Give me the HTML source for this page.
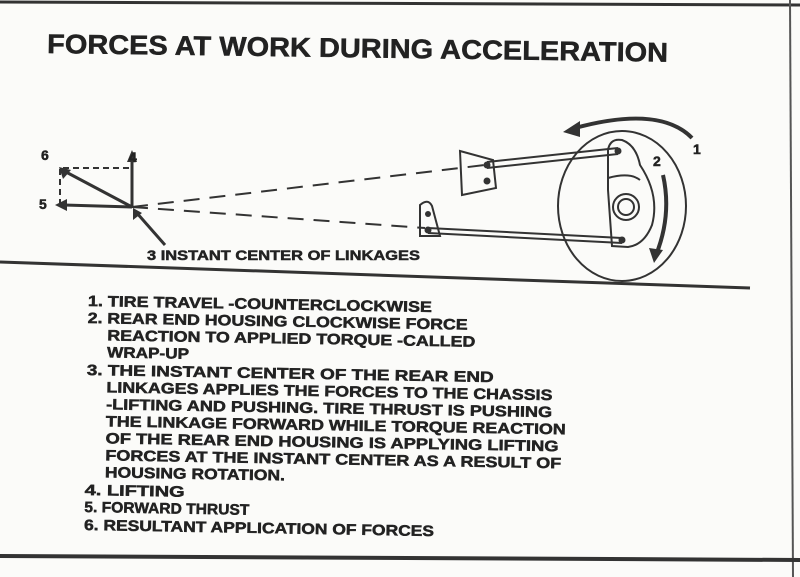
<!DOCTYPE html>
<html><head><meta charset="utf-8"><style>
html,body{margin:0;padding:0;background:#fff}
svg{display:block}
text{font-family:"Liberation Sans",sans-serif;font-weight:bold;fill:#222;stroke:#222;stroke-width:0.5}
</style></head><body>
<svg width="800" height="577" viewBox="0 0 800 577" xmlns="http://www.w3.org/2000/svg">
<rect width="800" height="577" fill="#fbfbf9"/>
<line x1="0" y1="2" x2="800" y2="5" stroke="#333" stroke-width="3"/>
<line x1="790" y1="0" x2="793" y2="577" stroke="#555" stroke-width="2"/>
<line x1="0" y1="556" x2="800" y2="560" stroke="#333" stroke-width="4"/>
<text x="47" y="53" font-size="27" textLength="621" lengthAdjust="spacingAndGlyphs" transform="rotate(0.8 47 53)">FORCES AT WORK DURING ACCELERATION</text>
<line x1="0" y1="262" x2="750" y2="288" stroke="#333" stroke-width="3"/>
<g fill="none" stroke="#333" stroke-width="2">
<ellipse cx="622" cy="206" rx="64" ry="75"/>
<circle cx="626" cy="207" r="13"/>
<circle cx="626" cy="207" r="8"/>
<path d="M608 150 Q610 138 622 140 Q636 145 640 165 Q660 195 652 225 Q644 245 628 247 L612 246 L608 190 Z"/>
<path d="M608 178 Q630 172 640 180"/>
<line x1="487" y1="162" x2="618" y2="148"/>
<line x1="487" y1="168" x2="618" y2="154"/>
<line x1="428" y1="228" x2="622" y2="238"/>
<line x1="428" y1="233" x2="622" y2="243"/>
<path d="M460 151 L493 160 L496 188 L462 195 Z"/>
<path d="M420 205 Q428 198 432 206 L440 236 L420 236 Z"/>
<line x1="132" y1="207" x2="485" y2="165" stroke-dasharray="16,10"/>
<line x1="132" y1="207" x2="425" y2="228" stroke-dasharray="16,10"/>
<path d="M60 205 L60 168 L132 168" stroke-dasharray="6,4"/>
<g stroke-width="3">
<line x1="132" y1="207" x2="132" y2="160"/>
<line x1="132" y1="207" x2="64" y2="205"/>
<line x1="132" y1="207" x2="66" y2="172"/>
<line x1="165" y1="245" x2="136" y2="212"/>
</g>
<path d="M692 138 Q660 105 575 128" stroke-width="4"/>
<path d="M663 175 Q672 215 656 255" stroke-width="4"/>
</g>
<g fill="#333">
<circle cx="487" cy="165" r="3.5"/><circle cx="487" cy="181" r="3.5"/>
<circle cx="618" cy="151" r="3.5"/><circle cx="622" cy="240" r="3.5"/>
<circle cx="428" cy="214" r="3"/><circle cx="428" cy="230" r="3.5"/>
<polygon points="132,150 127,162 137,162"/>
<polygon points="55,205 67,199 67,211"/>
<polygon points="59,167 63,179 71,170"/>
<polygon points="133,208 133,220 142,213"/>
<polygon points="563,132 580,121 580,137"/>
<polygon points="654,263 649,248 663,250"/>
</g>
<text x="41" y="160" font-size="14">6</text>
<text x="129" y="162" font-size="14">4</text>
<text x="39" y="209" font-size="14">5</text>
<text x="693" y="154" font-size="14">1</text>
<text x="653" y="166" font-size="14">2</text>
<text x="147" y="260" font-size="14" textLength="273" lengthAdjust="spacingAndGlyphs">3 INSTANT CENTER OF LINKAGES</text>
<g font-size="15" transform="rotate(1 88 300)">
<text x="88" y="306" textLength="344" lengthAdjust="spacingAndGlyphs">1. TIRE TRAVEL -COUNTERCLOCKWISE</text>
<text x="88" y="323" textLength="380" lengthAdjust="spacingAndGlyphs">2. REAR END HOUSING CLOCKWISE FORCE</text>
<text x="108" y="340" textLength="368" lengthAdjust="spacingAndGlyphs">REACTION TO APPLIED TORQUE -CALLED</text>
<text x="108" y="357" textLength="82" lengthAdjust="spacingAndGlyphs">WRAP-UP</text>
<text x="88" y="375" textLength="407" lengthAdjust="spacingAndGlyphs">3. THE INSTANT CENTER OF THE REAR END</text>
<text x="108" y="392" textLength="446" lengthAdjust="spacingAndGlyphs">LINKAGES APPLIES THE FORCES TO THE CHASSIS</text>
<text x="108" y="409" textLength="446" lengthAdjust="spacingAndGlyphs">-LIFTING AND PUSHING. TIRE THRUST IS PUSHING</text>
<text x="108" y="426" textLength="460" lengthAdjust="spacingAndGlyphs">THE LINKAGE FORWARD WHILE TORQUE REACTION</text>
<text x="108" y="443" textLength="453" lengthAdjust="spacingAndGlyphs">OF THE REAR END HOUSING IS APPLYING LIFTING</text>
<text x="108" y="460" textLength="456" lengthAdjust="spacingAndGlyphs">FORCES AT THE INSTANT CENTER AS A RESULT OF</text>
<text x="108" y="477" textLength="180" lengthAdjust="spacingAndGlyphs">HOUSING ROTATION.</text>
<text x="88" y="495" textLength="100" lengthAdjust="spacingAndGlyphs">4. LIFTING</text>
<text x="88" y="512" textLength="165" lengthAdjust="spacingAndGlyphs">5. FORWARD THRUST</text>
<text x="88" y="530" textLength="350" lengthAdjust="spacingAndGlyphs">6. RESULTANT APPLICATION OF FORCES</text>
</g>
</svg>
</body></html>
